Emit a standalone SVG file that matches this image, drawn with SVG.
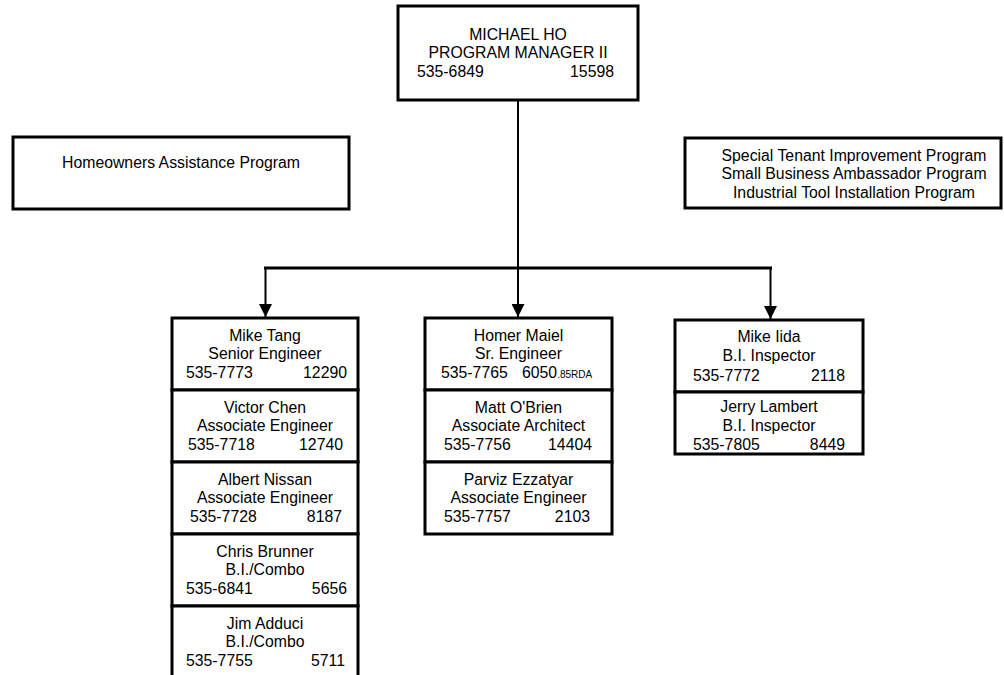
<svg xmlns="http://www.w3.org/2000/svg" width="1004" height="675" viewBox="0 0 1004 675">
<style>
text{font-family:"Liberation Sans",Arial,sans-serif;font-size:15.8px;fill:#000}
.c{text-anchor:middle}
.e{text-anchor:end}
.box{fill:#fff;stroke:#000;stroke-width:3}
.ln{stroke:#000;fill:none}
.sm{font-size:10px}
</style>
<defs>
<marker id="ah" markerUnits="userSpaceOnUse" markerWidth="13" markerHeight="13" refX="13" refY="6.5" orient="auto" viewBox="0 0 13 13">
<path d="M0,0 L13,6.5 L0,13 Z" fill="#000"/>
</marker>
</defs>
<g id="connectors">
<line class="ln" x1="518" y1="100" x2="518" y2="268" stroke-width="2"/>
<line class="ln" x1="264" y1="268" x2="772" y2="268" stroke-width="3"/>
<line class="ln" x1="265.5" y1="268" x2="265.5" y2="317" stroke-width="2" marker-end="url(#ah)"/>
<line class="ln" x1="518" y1="268" x2="518" y2="317" stroke-width="2" marker-end="url(#ah)"/>
<line class="ln" x1="770.5" y1="268" x2="770.5" y2="319" stroke-width="2" marker-end="url(#ah)"/>
</g>
<g id="michael-ho">
<rect class="box" x="398" y="6" width="240" height="94"/>
<text class="c" x="518" y="40">MICHAEL HO</text>
<text class="c" x="518" y="58">PROGRAM MANAGER II</text>
<text x="417" y="77">535-6849</text>
<text class="e" x="614" y="77">15598</text>
</g>
<g id="homeowners">
<rect class="box" x="13" y="137" width="336" height="72"/>
<text class="c" x="181" y="168">Homeowners Assistance Program</text>
</g>
<g id="special-programs">
<rect class="box" x="685" y="138" width="316" height="70"/>
<text class="c" x="854" y="161">Special Tenant Improvement Program</text>
<text class="c" x="854" y="179">Small Business Ambassador Program</text>
<text class="c" x="854" y="198">Industrial Tool Installation Program</text>
</g>
<g id="mike-tang">
<rect class="box" x="172" y="318" width="186" height="72"/>
<text class="c" x="265" y="341">Mike Tang</text>
<text class="c" x="265" y="359">Senior Engineer</text>
<text x="186" y="378">535-7773</text>
<text class="e" x="347" y="378">12290</text>
</g>
<g id="victor-chen">
<rect class="box" x="172" y="390" width="186" height="72"/>
<text class="c" x="265" y="413">Victor Chen</text>
<text class="c" x="265" y="431">Associate Engineer</text>
<text x="188" y="450">535-7718</text>
<text class="e" x="343" y="450">12740</text>
</g>
<g id="albert-nissan">
<rect class="box" x="172" y="462" width="186" height="72"/>
<text class="c" x="265" y="485">Albert Nissan</text>
<text class="c" x="265" y="503">Associate Engineer</text>
<text x="190" y="522">535-7728</text>
<text class="e" x="342" y="522">8187</text>
</g>
<g id="chris-brunner">
<rect class="box" x="172" y="534" width="186" height="72"/>
<text class="c" x="265" y="557">Chris Brunner</text>
<text class="c" x="265" y="575">B.I./Combo</text>
<text x="186" y="594">535-6841</text>
<text class="e" x="347" y="594">5656</text>
</g>
<g id="jim-adduci">
<rect class="box" x="172" y="606" width="186" height="74"/>
<text class="c" x="265" y="629">Jim Adduci</text>
<text class="c" x="265" y="647">B.I./Combo</text>
<text x="186" y="666">535-7755</text>
<text class="e" x="345" y="666">5711</text>
</g>
<g id="homer-maiel">
<rect class="box" x="425" y="318" width="187" height="72"/>
<text class="c" x="518.5" y="341">Homer Maiel</text>
<text class="c" x="518.5" y="359">Sr. Engineer</text>
<text x="441" y="378">535-7765</text>
<text x="522" y="378">6050<tspan class="sm">.85RDA</tspan></text>
</g>
<g id="matt-obrien">
<rect class="box" x="425" y="390" width="187" height="72"/>
<text class="c" x="518.5" y="413">Matt O'Brien</text>
<text class="c" x="518.5" y="431">Associate Architect</text>
<text x="444" y="450">535-7756</text>
<text class="e" x="592" y="450">14404</text>
</g>
<g id="parviz-ezzatyar">
<rect class="box" x="425" y="462" width="187" height="72"/>
<text class="c" x="518.5" y="485">Parviz Ezzatyar</text>
<text class="c" x="518.5" y="503">Associate Engineer</text>
<text x="444" y="522">535-7757</text>
<text class="e" x="590" y="522">2103</text>
</g>
<g id="mike-iida">
<rect class="box" x="675" y="320" width="188" height="72"/>
<text class="c" x="769" y="342">Mike Iida</text>
<text class="c" x="769" y="361">B.I. Inspector</text>
<text x="693" y="381">535-7772</text>
<text class="e" x="845" y="381">2118</text>
</g>
<g id="jerry-lambert">
<rect class="box" x="675" y="392" width="188" height="62"/>
<text class="c" x="769" y="412">Jerry Lambert</text>
<text class="c" x="769" y="431">B.I. Inspector</text>
<text x="693" y="450">535-7805</text>
<text class="e" x="845" y="450">8449</text>
</g>
</svg>
